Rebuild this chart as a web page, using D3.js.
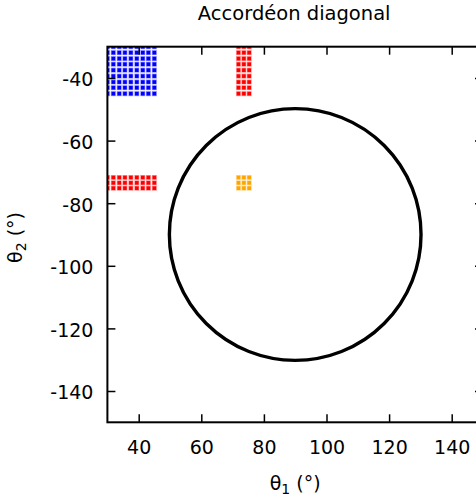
<!DOCTYPE html>
<html>
<head>
<meta charset="utf-8">
<script src="https://cdn.jsdelivr.net/npm/d3@7"></script>
<style>
  html, body { margin: 0; padding: 0; background: #fff; }
  svg { display: block; }
  text { font-family: "DejaVu Sans", sans-serif; }
</style>
</head>
<body>
<svg id="chart" width="476" height="499"></svg>
<script>
// Sampled joint angles (degrees) for each configuration block
const blueTheta1 = [30, 31.9, 33.8, 35.6, 37.5, 39.4, 41.3, 43.1, 45];
const blueTheta2 = [-30, -31.9, -33.8, -35.6, -37.5, -39.4, -41.3, -43.1, -45];
const redTopTheta1 = [71.9, 73.6, 75.3];
const redTopTheta2 = blueTheta2;
const redLeftTheta1 = blueTheta1;
const redLeftTheta2 = [-71.8, -73.5, -75.2];
const orangeTheta1 = [71.9, 73.6, 75.3];
const orangeTheta2 = [-71.8, -73.5, -75.2];

// Reachability boundary circle: centre and radius in degrees
const circleCenter = [90, -90];
const circleRadius = 40.2;

const xTicks = [40, 60, 80, 100, 120, 140];
const yTicks = [-40, -60, -80, -100, -120, -140];
const xDomain = [30, 150];
const yDomain = [-150, -30];

const svg = d3.select("#chart");
const plotLeft = 107.4, plotRight = 483, plotTop = 46.7, plotBottom = 422.3;
const x = d3.scaleLinear().domain(xDomain).range([plotLeft, plotRight]);
const y = d3.scaleLinear().domain(yDomain).range([plotBottom, plotTop]);

svg.append("defs").append("clipPath").attr("id", "plotClip")
  .append("rect").attr("x", plotLeft).attr("y", plotTop)
  .attr("width", plotRight - plotLeft).attr("height", plotBottom - plotTop);

const plot = svg.append("g").attr("clip-path", "url(#plotClip)");

function grid(t1, t2) {
  const pts = [];
  t1.forEach(a => t2.forEach(b => pts.push([a, b])));
  return pts;
}

const blocks = [
  { pts: grid(blueTheta1, blueTheta2), color: "#0000ff" },
  { pts: grid(redTopTheta1, redTopTheta2), color: "#ff0000" },
  { pts: grid(redLeftTheta1, redLeftTheta2), color: "#ff0000" },
  { pts: grid(orangeTheta1, orangeTheta2), color: "#ffa500" }
];

const sq = 5;
blocks.forEach(b => {
  plot.append("g").selectAll("rect").data(b.pts).join("rect")
    .attr("x", d => x(d[0]) - sq / 2)
    .attr("y", d => y(d[1]) - sq / 2)
    .attr("width", sq).attr("height", sq)
    .attr("fill", b.color)
    .attr("stroke", "#fff")
    .attr("stroke-opacity", 0.55)
    .attr("stroke-width", 1.4);
});

plot.append("ellipse")
  .attr("cx", x(circleCenter[0]))
  .attr("cy", y(circleCenter[1]))
  .attr("rx", x(circleCenter[0] + circleRadius) - x(circleCenter[0]))
  .attr("ry", y(circleCenter[1] - circleRadius) - y(circleCenter[1]))
  .attr("fill", "none")
  .attr("stroke", "#000")
  .attr("stroke-width", 3.4);

// Axes with inward ticks on all four sides
const tickLen = 8;
const fmt = d => String(d);

const gBottom = svg.append("g").attr("transform", `translate(0,${plotBottom})`)
  .call(d3.axisBottom(x).tickValues(xTicks).tickSize(-tickLen).tickPadding(18.5).tickFormat(fmt));
const gTop = svg.append("g").attr("transform", `translate(0,${plotTop})`)
  .call(d3.axisTop(x).tickValues(xTicks).tickSize(-tickLen).tickFormat(""));
const gLeft = svg.append("g").attr("transform", `translate(${plotLeft},0)`)
  .call(d3.axisLeft(y).tickValues(yTicks).tickSize(-tickLen).tickPadding(14).tickFormat(fmt));
const gRight = svg.append("g").attr("transform", `translate(${plotRight},0)`)
  .call(d3.axisRight(y).tickValues(yTicks).tickSize(-tickLen).tickFormat(""));

[gBottom, gTop, gLeft, gRight].forEach(g => {
  g.select(".domain").remove();
  g.selectAll(".tick line").attr("stroke", "#000").attr("stroke-width", 1.5);
  g.selectAll(".tick text")
    .attr("fill", "#000")
    .style("font-family", '"DejaVu Sans", sans-serif')
    .style("font-size", "19px");
});
gLeft.selectAll(".tick text").attr("dy", "0.42em");

svg.append("rect")
  .attr("x", plotLeft).attr("y", plotTop)
  .attr("width", plotRight - plotLeft).attr("height", plotBottom - plotTop)
  .attr("fill", "none").attr("stroke", "#000").attr("stroke-width", 2);

// Title and axis labels
svg.append("text")
  .attr("x", (plotLeft + plotRight) / 2 - 1).attr("y", 20)
  .attr("text-anchor", "middle")
  .style("font-size", "19.5px")
  .text("Accordéon diagonal");

const xl = svg.append("text")
  .attr("x", (plotLeft + plotRight) / 2).attr("y", 490)
  .attr("text-anchor", "middle")
  .style("font-size", "19px");
xl.append("tspan").text("θ");
xl.append("tspan").attr("dy", 4).style("font-size", "14px").text("1");
xl.append("tspan").attr("dy", -4).text(" (°)");

const yl = svg.append("text")
  .attr("transform", `translate(22,${(plotTop + plotBottom) / 2 + 3}) rotate(-90)`)
  .attr("text-anchor", "middle")
  .style("font-size", "19px");
yl.append("tspan").text("θ");
yl.append("tspan").attr("dy", 4).style("font-size", "14px").text("2");
yl.append("tspan").attr("dy", -4).text(" (°)");
</script>
</body>
</html>
